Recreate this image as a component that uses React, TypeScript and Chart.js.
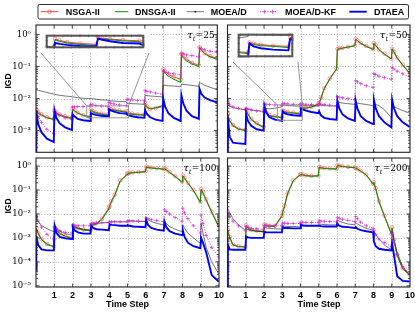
import React, { useEffect, useRef } from 'react';
import { Chart, registerables } from 'chart.js';

Chart.register(...registerables);

// ---------------- data ----------------
const SERIES = ['NSGA-II', 'DNSGA-II', 'MOEA/D', 'MOEA/D-KF', 'DTAEA'];
const TAUS = ['25', '50', '100', '200'];
const X_TICKS = [1, 2, 3, 4, 5, 6, 7, 8, 9, 10];
const X_GRID = [1, 2, 3, 4, 5, 6, 7, 8, 9];
const Y_TICKS = [1, 0.1, 0.01, 0.001, 0.0001, 0.00001];
const Y_TICK_LABELS = ['10⁰', '10⁻¹', '10⁻²', '10⁻³', '10⁻⁴', '10⁻⁵'];
const INSET_A_XMARKS = [2.8, 3.0, 3.2, 3.4, 3.6, 3.8, 4.0, 4.2, 4.4, 4.6, 4.8, 5.0];
const INSET_B_XMARKS = [2.8, 3.0, 3.2, 3.4, 3.6, 3.8, 4.0];
const INSET_YMARKS = [0.002, 0.003, 0.004, 0.005, 0.006];

const TIME = [0,
  0.02, 0.12, 0.3, 0.6, 0.98,
  1.02, 1.12, 1.3, 1.6, 1.98,
  2.02, 2.12, 2.3, 2.6, 2.98,
  3.02, 3.12, 3.3, 3.6, 3.98,
  4.02, 4.12, 4.3, 4.6, 4.98,
  5.02, 5.12, 5.3, 5.6, 5.98,
  6.02, 6.12, 6.3, 6.6, 6.98,
  7.02, 7.12, 7.3, 7.6, 7.98,
  8.02, 8.12, 8.3, 8.6, 8.98,
  9.02, 9.12, 9.3, 9.6, 9.98];

// tau_t = 25
const nsga25 = [4.5e-3,
  4.5e-3, 3.8e-3, 3.2e-3, 2.6e-3, 2.3e-3,
  4.2e-3, 3.7e-3, 3.2e-3, 2.8e-3, 2.5e-3,
  4.8e-3, 4.3e-3, 3.6e-3, 3.0e-3, 2.7e-3,
  4.5e-3, 4.1e-3, 3.7e-3, 3.4e-3, 3.2e-3,
  4.9e-3, 4.7e-3, 4.5e-3, 4.2e-3, 4.0e-3,
  3.7e-3, 3.5e-3, 3.4e-3, 3.2e-3, 3.2e-3,
  7.1e-3, 5.6e-3, 4.7e-3, 5.0e-3, 5.6e-3,
  0.083, 0.071, 0.056, 0.047, 0.040,
  0.25, 0.21, 0.17, 0.13, 0.11,
  0.40, 0.33, 0.26, 0.21, 0.18];
const dnsga25 = [4.2e-3,
  4.2e-3, 3.5e-3, 3.0e-3, 2.5e-3, 2.2e-3,
  4.0e-3, 3.5e-3, 3.0e-3, 2.6e-3, 2.4e-3,
  4.6e-3, 4.1e-3, 3.5e-3, 3.0e-3, 2.6e-3,
  4.3e-3, 3.9e-3, 3.5e-3, 3.2e-3, 3.0e-3,
  4.7e-3, 4.5e-3, 4.3e-3, 4.0e-3, 3.8e-3,
  3.5e-3, 3.4e-3, 3.2e-3, 3.1e-3, 3.0e-3,
  6.3e-3, 5.2e-3, 4.8e-3, 5.2e-3, 6.0e-3,
  0.076, 0.063, 0.050, 0.040, 0.032,
  0.22, 0.19, 0.15, 0.12, 0.10,
  0.37, 0.32, 0.25, 0.20, 0.17];
const moead25 = [0.019,
  0.019, 0.018, 0.017, 0.0155, 0.0138,
  0.0135, 0.0132, 0.0126, 0.012, 0.0115,
  0.0112, 0.011, 0.0107, 0.0102, 0.010,
  0.010, 0.0098, 0.0095, 0.0091, 0.0089,
  0.0087, 0.0085, 0.0083, 0.0081, 0.0079,
  0.0072, 0.0071, 0.0069, 0.0068, 0.0066,
  0.0126, 0.0123, 0.012, 0.0117, 0.0112,
  0.026, 0.0257, 0.025, 0.0245, 0.0234,
  0.028, 0.0275, 0.027, 0.0257, 0.024,
  0.032, 0.0295, 0.026, 0.0224, 0.019];
const kf25 = [4.0e-3,
  4.0e-3, 2.8e-3, 1.8e-3, 1.1e-3, 7.9e-4,
  3.8e-3, 3.4e-3, 3.0e-3, 2.5e-3, 2.2e-3,
  5.5e-3, 5.5e-3, 5.6e-3, 5.6e-3, 5.8e-3,
  6.6e-3, 6.3e-3, 6.0e-3, 5.8e-3, 5.5e-3,
  7.6e-3, 7.2e-3, 6.8e-3, 6.3e-3, 6.0e-3,
  9.5e-3, 9.3e-3, 9.1e-3, 8.7e-3, 8.5e-3,
  0.018, 0.0166, 0.016, 0.0148, 0.0138,
  0.071, 0.066, 0.063, 0.059, 0.055,
  0.26, 0.25, 0.23, 0.22, 0.20,
  0.38, 0.35, 0.33, 0.30, 0.28];
const dtaea25 = [1e-4,
  4.0e-3, 1.6e-3, 8.9e-4, 5.6e-4, 4.4e-4,
  4.3e-3, 2.5e-3, 1.7e-3, 1.26e-3, 1.05e-3,
  3.3e-3, 2.8e-3, 2.3e-3, 2.1e-3, 2.0e-3,
  3.5e-3, 3.3e-3, 3.1e-3, 2.9e-3, 2.8e-3,
  4.6e-3, 4.3e-3, 3.9e-3, 3.5e-3, 3.4e-3,
  3.2e-3, 3.0e-3, 2.8e-3, 2.6e-3, 2.5e-3,
  4.3e-3, 3.3e-3, 2.6e-3, 2.2e-3, 2.0e-3,
  0.010, 5.6e-3, 3.5e-3, 2.5e-3, 2.0e-3,
  0.0126, 7.1e-3, 4.2e-3, 2.8e-3, 2.3e-3,
  0.020, 0.014, 0.0107, 8.9e-3, 7.6e-3];

// tau_t = 50
const nsga50 = [3.4e-3,
  3.4e-3, 2.1e-3, 1.5e-3, 1.15e-3, 1.05e-3,
  4.5e-3, 3.4e-3, 2.3e-3, 1.7e-3, 1.3e-3,
  4.7e-3, 3.7e-3, 3.0e-3, 2.8e-3, 2.6e-3,
  4.2e-3, 4.0e-3, 3.8e-3, 3.6e-3, 3.5e-3,
  5.3e-3, 5.2e-3, 5.1e-3, 5.5e-3, 6.8e-3,
  7.4e-3, 0.0105, 0.021, 0.042, 0.086,
  0.35, 0.37, 0.38, 0.41, 0.45,
  0.72, 0.65, 0.54, 0.44, 0.35,
  0.54, 0.46, 0.34, 0.25, 0.175,
  0.36, 0.29, 0.19, 0.115, 0.062];
const dnsga50 = [3.2e-3,
  3.2e-3, 2.0e-3, 1.4e-3, 1.1e-3, 1.0e-3,
  4.3e-3, 3.2e-3, 2.2e-3, 1.6e-3, 1.26e-3,
  4.5e-3, 3.5e-3, 2.8e-3, 2.7e-3, 2.5e-3,
  4.0e-3, 3.8e-3, 3.6e-3, 3.5e-3, 3.3e-3,
  5.1e-3, 5.0e-3, 5.0e-3, 5.4e-3, 6.6e-3,
  7.1e-3, 0.010, 0.020, 0.040, 0.083,
  0.34, 0.35, 0.37, 0.40, 0.44,
  0.71, 0.63, 0.52, 0.42, 0.34,
  0.52, 0.45, 0.33, 0.24, 0.17,
  0.35, 0.28, 0.18, 0.11, 0.060];
const moead50 = [6.3e-3,
  6.3e-3, 5.8e-3, 5.2e-3, 4.8e-3, 4.5e-3,
  5.0e-3, 4.7e-3, 4.4e-3, 4.2e-3, 4.0e-3,
  5.0e-3, 4.9e-3, 4.8e-3, 5.0e-3, 5.5e-3,
  6.3e-3, 6.2e-3, 6.0e-3, 5.9e-3, 5.8e-3,
  6.3e-3, 6.2e-3, 6.0e-3, 5.9e-3, 5.8e-3,
  6.3e-3, 6.2e-3, 6.0e-3, 5.9e-3, 5.8e-3,
  7.9e-3, 7.6e-3, 7.2e-3, 6.9e-3, 6.6e-3,
  7.6e-3, 7.2e-3, 6.9e-3, 6.5e-3, 6.0e-3,
  7.1e-3, 6.6e-3, 6.0e-3, 4.5e-3, 2.5e-3,
  6.3e-3, 5.6e-3, 5.0e-3, 4.2e-3, 3.5e-3];
const kf50 = [7.1e-3,
  7.1e-3, 6.3e-3, 5.5e-3, 4.9e-3, 4.5e-3,
  5.0e-3, 4.7e-3, 4.4e-3, 4.1e-3, 3.8e-3,
  6.8e-3, 6.6e-3, 6.5e-3, 6.3e-3, 6.2e-3,
  7.1e-3, 6.9e-3, 6.8e-3, 6.6e-3, 6.5e-3,
  6.9e-3, 6.8e-3, 6.6e-3, 6.5e-3, 6.3e-3,
  6.8e-3, 6.6e-3, 6.5e-3, 6.2e-3, 5.9e-3,
  0.0115, 0.011, 0.0105, 9.8e-3, 9.1e-3,
  0.036, 0.033, 0.029, 0.025, 0.022,
  0.060, 0.056, 0.050, 0.045, 0.040,
  0.095, 0.083, 0.071, 0.059, 0.048];
const dtaea50 = [1e-4,
  2.6e-3, 6.3e-4, 4.2e-4, 4.0e-4, 3.8e-4,
  3.3e-3, 2.0e-3, 1.4e-3, 1.1e-3, 1.0e-3,
  6.0e-3, 3.8e-3, 2.6e-3, 2.2e-3, 2.0e-3,
  4.0e-3, 3.5e-3, 3.2e-3, 3.0e-3, 2.9e-3,
  4.9e-3, 4.6e-3, 4.2e-3, 3.8e-3, 3.5e-3,
  4.0e-3, 3.0e-3, 2.5e-3, 2.3e-3, 2.2e-3,
  8.7e-3, 5.0e-3, 3.2e-3, 2.4e-3, 2.0e-3,
  8.7e-3, 4.8e-3, 2.8e-3, 2.0e-3, 1.6e-3,
  9.3e-3, 5.0e-3, 2.8e-3, 1.8e-3, 1.26e-3,
  9.3e-3, 5.0e-3, 2.8e-3, 1.8e-3, 1.3e-3];

// tau_t = 100
const nsga100 = [4.0e-5,
  2.5e-3, 1.6e-3, 8.9e-4, 5.6e-4, 4.4e-4,
  2.8e-3, 2.2e-3, 1.6e-3, 1.2e-3, 1.0e-3,
  3.2e-3, 2.8e-3, 2.5e-3, 2.2e-3, 2.1e-3,
  3.5e-3, 3.6e-3, 4.0e-3, 6.3e-3, 0.018,
  0.022, 0.035, 0.063, 0.25, 0.47,
  0.50, 0.52, 0.54, 0.56, 0.60,
  0.93, 0.89, 0.85, 0.81, 0.76,
  0.79, 0.71, 0.56, 0.38, 0.22,
  0.40, 0.32, 0.20, 0.10, 0.032,
  0.11, 0.079, 0.040, 0.0126, 3.2e-3];
const dnsga100 = [2.4e-3,
  2.4e-3, 1.5e-3, 8.5e-4, 5.3e-4, 4.2e-4,
  2.7e-3, 2.1e-3, 1.5e-3, 1.15e-3, 9.5e-4,
  3.0e-3, 2.7e-3, 2.4e-3, 2.1e-3, 2.0e-3,
  3.3e-3, 3.4e-3, 3.8e-3, 5.8e-3, 0.016,
  0.020, 0.032, 0.058, 0.23, 0.44,
  0.48, 0.50, 0.52, 0.54, 0.57,
  0.90, 0.86, 0.82, 0.78, 0.73,
  0.76, 0.68, 0.53, 0.36, 0.21,
  0.38, 0.30, 0.19, 0.095, 0.030,
  0.10, 0.074, 0.037, 0.0115, 2.9e-3];
const moead100 = [6.6e-3,
  6.6e-3, 5.0e-3, 3.3e-3, 2.4e-3, 1.8e-3,
  3.5e-3, 2.5e-3, 1.9e-3, 1.5e-3, 1.3e-3,
  3.5e-3, 3.0e-3, 2.6e-3, 2.3e-3, 2.1e-3,
  3.8e-3, 3.9e-3, 4.0e-3, 4.2e-3, 4.4e-3,
  4.7e-3, 4.7e-3, 4.7e-3, 4.6e-3, 4.6e-3,
  5.2e-3, 5.1e-3, 5.0e-3, 4.9e-3, 4.8e-3,
  6.6e-3, 5.8e-3, 4.8e-3, 4.0e-3, 3.5e-3,
  4.8e-3, 4.0e-3, 3.0e-3, 2.3e-3, 1.8e-3,
  3.5e-3, 2.5e-3, 1.6e-3, 1.0e-3, 6.0e-4,
  4.1e-3, 1.6e-3, 4.0e-4, 1.0e-4, 3.2e-5];
const kf100 = [7.8e-3,
  7.8e-3, 5.0e-3, 2.8e-3, 1.4e-3, 8.3e-4,
  2.8e-3, 2.4e-3, 2.0e-3, 1.7e-3, 1.6e-3,
  3.5e-3, 3.4e-3, 3.3e-3, 3.2e-3, 3.2e-3,
  4.0e-3, 4.1e-3, 4.2e-3, 4.3e-3, 4.4e-3,
  4.5e-3, 4.6e-3, 4.7e-3, 4.8e-3, 4.8e-3,
  5.1e-3, 5.1e-3, 5.1e-3, 5.0e-3, 5.0e-3,
  6.6e-3, 6.3e-3, 5.8e-3, 5.2e-3, 4.8e-3,
  0.0148, 0.0126, 0.010, 7.1e-3, 5.0e-3,
  0.0174, 0.0112, 6.3e-3, 3.2e-3, 1.6e-3,
  9.1e-3, 4.0e-3, 1.26e-3, 4.0e-4, 1.6e-4];
const dtaea100 = [4.7e-5,
  1.2e-3, 5.0e-4, 3.3e-4, 3.0e-4, 3.0e-4,
  3.2e-3, 1.6e-3, 1.1e-3, 9.5e-4, 8.9e-4,
  2.8e-3, 2.0e-3, 1.7e-3, 1.5e-3, 1.5e-3,
  3.2e-3, 2.6e-3, 2.3e-3, 2.2e-3, 2.1e-3,
  3.7e-3, 3.5e-3, 3.4e-3, 3.2e-3, 3.2e-3,
  3.4e-3, 3.2e-3, 3.0e-3, 2.9e-3, 2.8e-3,
  5.6e-3, 3.5e-3, 2.6e-3, 2.2e-3, 2.0e-3,
  4.8e-3, 2.8e-3, 1.9e-3, 1.5e-3, 1.3e-3,
  2.1e-3, 1.1e-3, 6.3e-4, 4.5e-4, 3.7e-4,
  1.0e-3, 6.3e-4, 2.5e-4, 2.8e-5, 1.5e-5];

// tau_t = 200
const nsga200 = [2.2e-3,
  2.2e-3, 1.1e-3, 5.3e-4, 4.5e-4, 4.3e-4,
  3.4e-3, 2.6e-3, 2.2e-3, 2.0e-3, 1.9e-3,
  3.7e-3, 3.4e-3, 3.2e-3, 3.2e-3, 8.5e-3,
  0.012, 0.022, 0.075, 0.25, 0.44,
  0.45, 0.44, 0.41, 0.39, 0.40,
  0.90, 0.86, 0.82, 0.79, 0.77,
  1.08, 1.03, 0.98, 0.92, 0.88,
  0.82, 0.77, 0.63, 0.44, 0.18,
  0.21, 0.12, 0.034, 8.5e-3, 1.5e-3,
  2.7e-3, 8.5e-4, 2.0e-4, 5.5e-5, 3.0e-5];
const dnsga200 = [2.1e-3,
  2.1e-3, 1.0e-3, 5.0e-4, 4.3e-4, 4.1e-4,
  3.2e-3, 2.5e-3, 2.1e-3, 1.9e-3, 1.8e-3,
  3.5e-3, 3.2e-3, 3.0e-3, 3.0e-3, 7.9e-3,
  0.0112, 0.020, 0.071, 0.24, 0.42,
  0.43, 0.42, 0.39, 0.37, 0.38,
  0.87, 0.83, 0.79, 0.76, 0.74,
  1.05, 1.0, 0.95, 0.89, 0.85,
  0.79, 0.74, 0.60, 0.42, 0.17,
  0.20, 0.11, 0.032, 7.9e-3, 1.4e-3,
  2.5e-3, 7.9e-4, 1.8e-4, 5.0e-5, 2.8e-5];
const moead200 = [0.0174,
  0.0174, 0.0112, 6.3e-3, 3.5e-3, 2.1e-3,
  2.5e-3, 2.2e-3, 2.0e-3, 1.9e-3, 1.8e-3,
  2.8e-3, 2.6e-3, 2.5e-3, 2.4e-3, 2.3e-3,
  3.2e-3, 3.1e-3, 3.0e-3, 3.0e-3, 2.9e-3,
  3.5e-3, 3.4e-3, 3.3e-3, 3.2e-3, 3.2e-3,
  3.8e-3, 3.7e-3, 3.6e-3, 3.5e-3, 3.5e-3,
  5.6e-3, 5.0e-3, 4.4e-3, 3.8e-3, 3.5e-3,
  4.4e-3, 3.8e-3, 3.2e-3, 2.5e-3, 2.1e-3,
  1.8e-3, 1.4e-3, 8.9e-4, 5.0e-4, 3.2e-4,
  1.8e-3, 7.9e-4, 2.5e-4, 6.3e-5, 2.9e-5];
const kf200 = [0.0112,
  0.0112, 7.9e-3, 5.0e-3, 3.2e-3, 2.0e-3,
  3.0e-3, 2.8e-3, 2.5e-3, 2.4e-3, 2.3e-3,
  3.3e-3, 3.2e-3, 3.2e-3, 3.2e-3, 3.2e-3,
  4.1e-3, 4.1e-3, 4.0e-3, 4.0e-3, 4.0e-3,
  4.5e-3, 4.5e-3, 4.4e-3, 4.4e-3, 4.3e-3,
  5.1e-3, 5.0e-3, 4.9e-3, 4.8e-3, 4.7e-3,
  7.1e-3, 6.6e-3, 6.0e-3, 5.4e-3, 4.8e-3,
  7.8e-3, 6.3e-3, 4.5e-3, 3.2e-3, 2.5e-3,
  2.1e-3, 1.4e-3, 8.9e-4, 6.3e-4, 4.4e-4,
  1.6e-3, 6.3e-4, 2.0e-4, 6.3e-5, 3.2e-5];
const dtaea200 = [8e-6,
  5.1e-4, 3.3e-4, 3.2e-4, 3.2e-4, 3.2e-4,
  1.15e-3, 1.05e-3, 1.0e-3, 1.0e-3, 1.0e-3,
  1.8e-3, 1.7e-3, 1.7e-3, 1.7e-3, 1.7e-3,
  2.8e-3, 2.6e-3, 2.6e-3, 2.5e-3, 2.5e-3,
  3.5e-3, 3.3e-3, 3.2e-3, 3.2e-3, 3.2e-3,
  3.2e-3, 3.1e-3, 3.0e-3, 3.0e-3, 3.0e-3,
  4.0e-3, 3.2e-3, 2.9e-3, 2.8e-3, 2.6e-3,
  2.8e-3, 2.4e-3, 2.1e-3, 1.9e-3, 1.7e-3,
  7.1e-4, 4.5e-4, 3.5e-4, 3.2e-4, 3.0e-4,
  5.6e-4, 2.0e-4, 2.5e-5, 1.6e-5, 1.5e-5];

// ---------------- styles / layout ----------------
const STYLES = [
  { color: 'rgb(255,35,35)', width: 0.9, radius: 1.8, pointStyle: 'circle', pointColor: 'rgba(255,100,100,0.9)', pointWidth: 0.7, dash: [] as number[], order: 5 },
  { color: 'rgb(0,145,0)', width: 1, radius: 0, pointStyle: 'circle', pointColor: 'rgb(0,145,0)', pointWidth: 0, dash: [] as number[], order: 4 },
  { color: 'rgb(25,25,25)', width: 0.6, radius: 0, pointStyle: 'circle', pointColor: 'rgb(25,25,25)', pointWidth: 0, dash: [] as number[], order: 3 },
  { color: 'rgb(205,0,205)', width: 0.8, radius: 1.8, pointStyle: 'cross', pointColor: 'rgb(215,40,215)', pointWidth: 0.7, dash: [1, 1.5], order: 2 },
  { color: 'rgb(0,0,255)', width: 1.9, radius: 0, pointStyle: 'circle', pointColor: 'rgb(0,0,255)', pointWidth: 0, dash: [] as number[], order: 1 },
];

const FONT_SANS = "'Liberation Sans', 'DejaVu Sans', sans-serif";
const FONT_SERIF = "'DejaVu Serif', serif";

const PANELS = [
  { tau: TAUS[0], series: [nsga25, dnsga25, moead25, kf25, dtaea25], left: 0, top: 20, w: 222, h: 137,
    pad: { left: 0, right: 3, top: 5, bottom: 4 }, showX: false, showY: true, yMin: 2.1e-4, yMax: 1.97,
    zoom: { x0: 2.8, x1: 5.1, y0: 2.5e-3, y1: 5.9e-3, box: { left: 41, top: 30, right: 149, bottom: 53 }, xMarks: INSET_A_XMARKS } },
  { tau: TAUS[1], series: [nsga50, dnsga50, moead50, kf50, dtaea50], left: 222, top: 20, w: 193, h: 137,
    pad: { left: 5.5, right: 5, top: 5, bottom: 4 }, showX: false, showY: false, yMin: 2.1e-4, yMax: 1.97,
    zoom: { x0: 2.73, x1: 4.1, y0: 2.1e-3, y1: 6.3e-3, box: { left: 233, top: 29, right: 298, bottom: 62 }, xMarks: INSET_B_XMARKS } },
  { tau: TAUS[2], series: [nsga100, dnsga100, moead100, kf100, dtaea100], left: 0, top: 153, w: 226, h: 159,
    pad: { left: 0, right: 7, top: 5, bottom: 0 }, showX: true, showY: true, yMin: 8.9e-6, yMax: 2.16, zoom: null as any },
  { tau: TAUS[3], series: [nsga200, dnsga200, moead200, kf200, dtaea200], left: 222, top: 153, w: 193, h: 159,
    pad: { left: 5.5, right: 5, top: 5, bottom: 0 }, showX: true, showY: false, yMin: 8.9e-6, yMax: 2.16, zoom: null as any },
];

const MINOR_MULTS = [2, 3, 4, 5, 6, 7, 8, 9];
const Y_MINOR = Y_TICKS.slice(1).flatMap((d) => MINOR_MULTS.map((m) => d * m));

function buildDatasets(series: number[][]) {
  return series.map((vals, i) => {
    const s = STYLES[i];
    return {
      label: SERIES[i],
      data: TIME.map((t, j) => ({ x: t, y: vals[j] })),
      borderColor: s.color,
      borderWidth: s.width,
      borderDash: s.dash,
      pointRadius: s.radius,
      pointStyle: s.pointStyle,
      pointBorderColor: s.pointColor,
      pointBackgroundColor: 'rgba(0,0,0,0)',
      pointBorderWidth: s.pointWidth,
      fill: false,
      tension: 0,
      order: s.order,
      clip: 0,
    };
  });
}

function drawTau(ctx: CanvasRenderingContext2D, a: any, tau: string) {
  const parts = [
    { t: 'τ', font: `italic 10px ${FONT_SERIF}`, dy: 0 },
    { t: 't', font: `italic 6.5px ${FONT_SERIF}`, dy: 2.5 },
    { t: '=' + tau, font: `9px ${FONT_SERIF}`, dy: 0 },
  ];
  let total = 0;
  const widths = parts.map((p) => { ctx.font = p.font; const w = ctx.measureText(p.t).width; total += w; return w; });
  let xx = a.right - 3 - total;
  const base = a.top + 13;
  ctx.fillStyle = '#000';
  ctx.textBaseline = 'alphabetic';
  ctx.textAlign = 'left';
  parts.forEach((p, i) => { ctx.font = p.font; ctx.fillText(p.t, xx, base + p.dy); xx += widths[i] + (i === 1 ? 0.5 : 0); });
}

const framePlugin = {
  id: 'frame',
  beforeDatasetsDraw(chart: any, _args: any, o: any) {
    if (!o || !o.grid) return;
    const { ctx, chartArea: a } = chart;
    const x = chart.scales.x, y = chart.scales.y;
    ctx.save();
    ctx.strokeStyle = '#9a9a9a';
    ctx.lineWidth = 0.8;
    ctx.setLineDash([1, 1.8]);
    ctx.beginPath();
    for (const v of X_GRID) {
      const p = Math.round(x.getPixelForValue(v)) + 0.5;
      ctx.moveTo(p, a.top); ctx.lineTo(p, a.bottom);
    }
    for (const v of Y_TICKS) {
      if (v <= y.min || v >= y.max) continue;
      const p = Math.round(y.getPixelForValue(v)) + 0.5;
      ctx.moveTo(a.left, p); ctx.lineTo(a.right, p);
    }
    ctx.stroke();
    ctx.restore();
  },
  afterDatasetsDraw(chart: any, _args: any, o: any) {
    if (!o) return;
    const { ctx, chartArea: a } = chart;
    const x = chart.scales.x, y = chart.scales.y;
    ctx.save();
    ctx.setLineDash([]);
    if (o.zoom) {
      const z = o.zoom;
      const l = x.getPixelForValue(z.x0), r = x.getPixelForValue(z.x1);
      const t = y.getPixelForValue(z.y1), b = y.getPixelForValue(z.y0);
      ctx.strokeStyle = '#8a8a8a';
      ctx.lineWidth = 0.9;
      ctx.strokeRect(l, t, r - l, b - t);
      const bx0 = z.box.left - o.offX, bx1 = z.box.right - o.offX, by = z.box.bottom - o.offY;
      ctx.beginPath();
      ctx.moveTo(bx0, by); ctx.lineTo(l, t);
      ctx.moveTo(bx1, by); ctx.lineTo(r, t);
      ctx.stroke();
    }
    ctx.strokeStyle = o.frameColor;
    ctx.lineWidth = o.frameWidth;
    const fw = o.inset ? o.frameWidth / 2 : 0;
    ctx.strokeRect(a.left + fw, a.top + fw, a.width - 2 * fw, a.height - 2 * fw);
    ctx.lineWidth = 0.8;
    ctx.beginPath();
    const tl = o.tickLen;
    for (const v of o.xMarks) {
      if (v <= x.min || v >= x.max) continue;
      const p = x.getPixelForValue(v);
      ctx.moveTo(p, a.bottom); ctx.lineTo(p, a.bottom - tl);
      ctx.moveTo(p, a.top); ctx.lineTo(p, a.top + tl);
    }
    for (const v of o.yMarks) {
      if (v <= y.min || v >= y.max) continue;
      const p = y.getPixelForValue(v);
      ctx.moveTo(a.left, p); ctx.lineTo(a.left + tl, p);
      ctx.moveTo(a.right, p); ctx.lineTo(a.right - tl, p);
    }
    for (const v of o.yMinor) {
      if (v <= y.min || v >= y.max) continue;
      const p = y.getPixelForValue(v);
      ctx.moveTo(a.left, p); ctx.lineTo(a.left + tl * 0.55, p);
      ctx.moveTo(a.right, p); ctx.lineTo(a.right - tl * 0.55, p);
    }
    ctx.stroke();
    if (o.tau) drawTau(ctx, a, o.tau);
    ctx.restore();
  },
};

function mainConfig(p: any): any {
  return {
    type: 'line',
    data: { datasets: buildDatasets(p.series) },
    options: {
      responsive: false,
      animation: false,
      devicePixelRatio: 1,
      events: [],
      layout: { padding: p.pad },
      plugins: {
        legend: { display: false },
        tooltip: { enabled: false },
        frame: {
          grid: true, inset: false, frameColor: '#222', frameWidth: 1.1, tickLen: 3.5,
          xMarks: X_GRID, yMarks: Y_TICKS, yMinor: Y_MINOR, tau: p.tau,
          zoom: p.zoom, offX: p.left, offY: p.top,
        },
      },
      scales: {
        x: {
          type: 'linear', min: 0, max: 10, display: p.showX,
          grid: { display: false, drawTicks: false }, border: { display: false },
          ticks: { autoSkip: false, maxRotation: 0, padding: 3, color: '#000', font: { family: FONT_SANS, weight: 'bold', size: 9 }, callback: (v: any) => String(v) },
          afterBuildTicks: (s: any) => { s.ticks = X_TICKS.map((v) => ({ value: v })); },
          afterFit: (s: any) => { s.height = p.showX ? 25 : 0; s.paddingLeft = 0; s.paddingRight = 0; },
        },
        y: {
          type: 'logarithmic', min: p.yMin, max: p.yMax, display: p.showY,
          grid: { display: false, drawTicks: false }, border: { display: false },
          ticks: {
            autoSkip: false, padding: 5, color: '#000', font: { family: FONT_SERIF, size: 8.5 },
            callback: (v: any) => {
              const idx = Y_TICKS.findIndex((t) => Math.abs(Math.log10(t) - Math.log10(v)) < 0.01);
              return idx >= 0 ? Y_TICK_LABELS[idx] : '';
            },
          },
          afterBuildTicks: (s: any) => { s.ticks = Y_TICKS.filter((v) => v >= s.min && v <= s.max).map((v) => ({ value: v })); },
          afterFit: (s: any) => { s.width = p.showY ? 36 : 0; s.paddingTop = 0; s.paddingBottom = 0; },
        },
      },
    },
    plugins: [framePlugin],
  };
}

function insetConfig(p: any): any {
  const z = p.zoom;
  return {
    type: 'line',
    data: { datasets: buildDatasets(p.series) },
    options: {
      responsive: false,
      animation: false,
      devicePixelRatio: 1,
      events: [],
      layout: { padding: 0 },
      plugins: {
        legend: { display: false },
        tooltip: { enabled: false },
        frame: {
          grid: false, inset: true, frameColor: '#555', frameWidth: 2, tickLen: 2.5,
          xMarks: z.xMarks, yMarks: INSET_YMARKS, yMinor: [], tau: '', zoom: null,
        },
      },
      scales: {
        x: { type: 'linear', min: z.x0, max: z.x1, display: false, afterFit: (s: any) => { s.height = 0; } },
        y: { type: 'logarithmic', min: z.y0, max: z.y1, display: false, afterFit: (s: any) => { s.width = 0; } },
      },
    },
    plugins: [framePlugin],
  };
}

const LEGEND_TEXT_X = [65.7, 135, 210.7, 285, 374];

export default function App() {
  const refs = useRef<(HTMLCanvasElement | null)[]>([]);
  const insetRefs = useRef<(HTMLCanvasElement | null)[]>([]);

  useEffect(() => {
    const charts: any[] = [];
    PANELS.forEach((p, i) => {
      const c = refs.current[i];
      if (c) charts.push(new Chart(c, mainConfig(p)));
      if (p.zoom) {
        const ic = insetRefs.current[i];
        if (ic) charts.push(new Chart(ic, insetConfig(p)));
      }
    });
    return () => charts.forEach((ch) => ch.destroy());
  }, []);

  const ly = 11.7;
  return (
    <div style={{ position: 'fixed', left: 0, top: 0, width: 415, height: 312, background: '#fff', overflow: 'hidden' }}>
      {PANELS.map((p, i) => (
        <canvas key={'c' + i} ref={(el) => { refs.current[i] = el; }} width={p.w} height={p.h}
          style={{ position: 'absolute', left: p.left, top: p.top, width: p.w, height: p.h, display: 'block' }} />
      ))}
      {PANELS.map((p, i) => p.zoom ? (
        <canvas key={'i' + i} ref={(el) => { insetRefs.current[i] = el; }}
          width={p.zoom.box.right - p.zoom.box.left} height={p.zoom.box.bottom - p.zoom.box.top}
          style={{ position: 'absolute', left: p.zoom.box.left, top: p.zoom.box.top, width: p.zoom.box.right - p.zoom.box.left, height: p.zoom.box.bottom - p.zoom.box.top, background: '#fff', display: 'block' }} />
      ) : null)}
      <svg width={415} height={24} style={{ position: 'absolute', left: 0, top: 0 }}>
        <rect x={38} y={4.5} width={370.5} height={14.5} rx={1.5} fill="#fff" stroke="#333" strokeWidth={1} />
        <line x1={40.7} y1={ly} x2={58.3} y2={ly} stroke={STYLES[0].color} strokeWidth={0.9} />
        <circle cx={49.5} cy={ly} r={1.9} fill="none" stroke={STYLES[0].pointColor} strokeWidth={0.8} />
        <line x1={115} y1={ly} x2={128.3} y2={ly} stroke={STYLES[1].color} strokeWidth={1} />
        <line x1={186.7} y1={ly} x2={204} y2={ly} stroke={STYLES[2].color} strokeWidth={0.6} />
        <circle cx={195.3} cy={ly} r={0.9} fill={STYLES[2].color} />
        <line x1={260} y1={ly} x2={277.3} y2={ly} stroke={STYLES[3].color} strokeWidth={0.8} strokeDasharray="1 1.5" />
        <path d={`M262.5 ${ly} h4 M264.5 ${ly - 2} v4 M270.5 ${ly} h4 M272.5 ${ly - 2} v4`} stroke={STYLES[3].pointColor} strokeWidth={0.7} fill="none" />
        <line x1={349.3} y1={ly} x2={366.7} y2={ly} stroke={STYLES[4].color} strokeWidth={1.9} />
      </svg>
      {SERIES.map((s, i) => (
        <div key={s} style={{ position: 'absolute', left: LEGEND_TEXT_X[i], top: ly, transform: 'translateY(-50%)', font: `bold 9px ${FONT_SANS}`, lineHeight: 1, whiteSpace: 'nowrap', color: '#000' }}>{s}</div>
      ))}
      <div style={{ position: 'absolute', left: 8, top: 81, transform: 'translate(-50%,-50%) rotate(-90deg)', font: `bold 8.5px ${FONT_SANS}`, whiteSpace: 'nowrap', lineHeight: 1 }}>IGD</div>
      <div style={{ position: 'absolute', left: 8, top: 206, transform: 'translate(-50%,-50%) rotate(-90deg)', font: `bold 8.5px ${FONT_SANS}`, whiteSpace: 'nowrap', lineHeight: 1 }}>IGD</div>
      <div style={{ position: 'absolute', left: 127.5, top: 304, transform: 'translate(-50%,-50%)', font: `bold 9px ${FONT_SANS}`, whiteSpace: 'nowrap', lineHeight: 1 }}>Time Step</div>
      <div style={{ position: 'absolute', left: 319, top: 304, transform: 'translate(-50%,-50%)', font: `bold 9px ${FONT_SANS}`, whiteSpace: 'nowrap', lineHeight: 1 }}>Time Step</div>
    </div>
  );
}
